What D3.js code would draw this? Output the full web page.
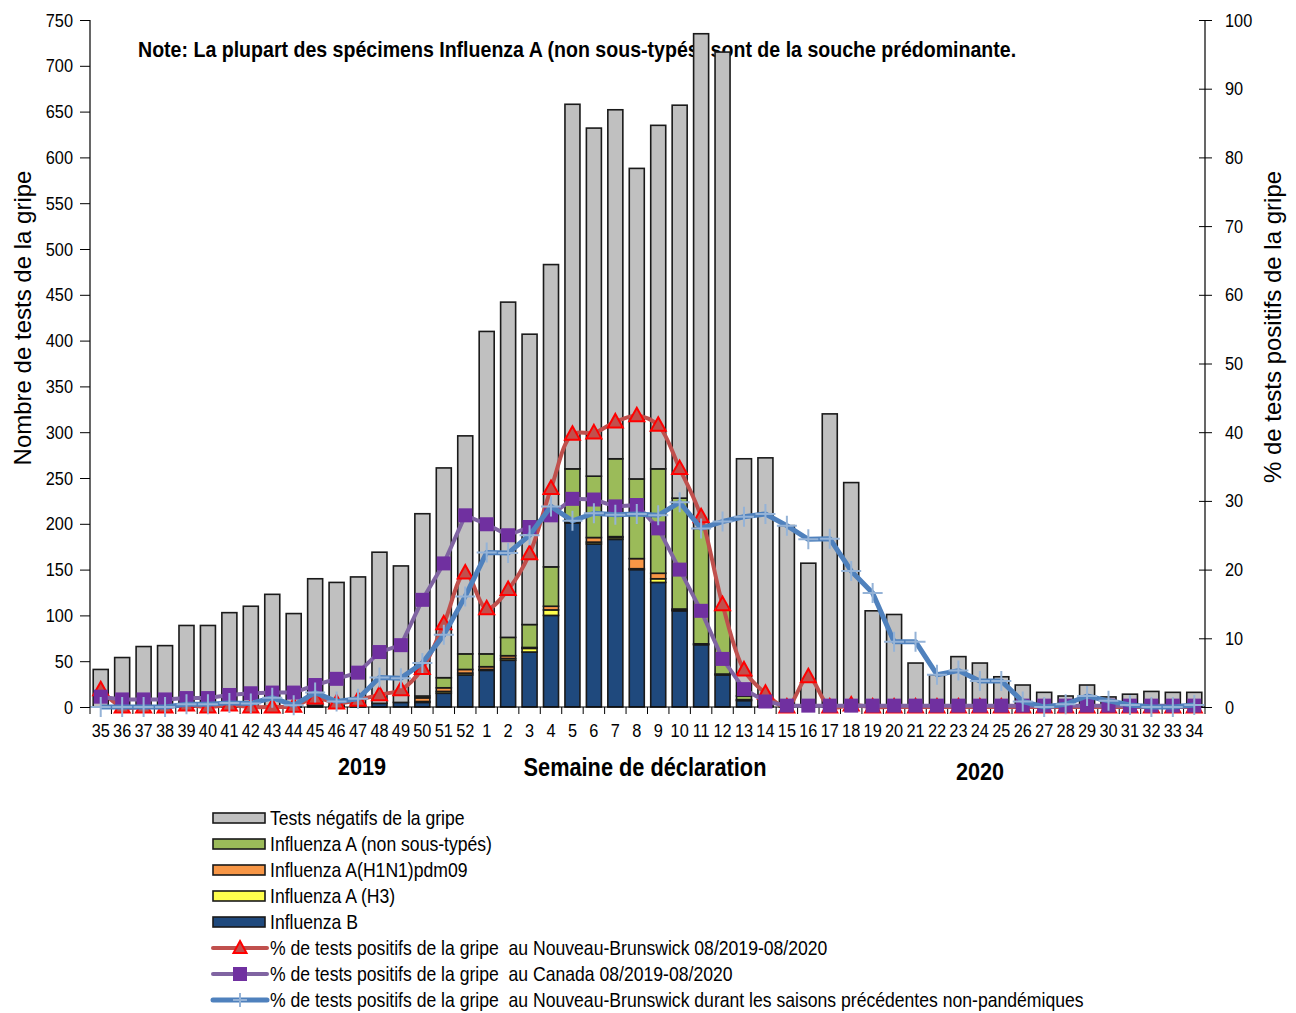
<!DOCTYPE html>
<html>
<head>
<meta charset="utf-8">
<script src="https://cdnjs.cloudflare.com/ajax/libs/d3/7.8.5/d3.min.js"></script>
<style>
  body { margin: 0; background: #fff; }
  text { font-family: "Liberation Sans", Arial, sans-serif; fill: #000; white-space: pre; }
</style>
</head>
<body>
<div id="chart"></div>
<script>
const weeks = ["35","36","37","38","39","40","41","42","43","44","45","46","47","48","49","50","51","52",
  "1","2","3","4","5","6","7","8","9","10","11","12","13","14","15","16","17","18","19","20",
  "21","22","23","24","25","26","27","28","29","30","31","32","33","34"]

// bar stacks (number of tests)
const fluB = [0,0,0,0,0,0,0,0,0,0,2,1,2,4,5,5,15,35,
  40,51,60,100,201,178,183,150,136,105,68,35,7,1,0,0,0,0,0,0,
  0,0,0,0,0,0,0,0,0,0,0,0,0,0]
const fluH3 = [0,0,0,0,0,0,0,0,0,0,0,0,0,0,0,1,2,2,
  1,2,4,6,0,2,2,1,4,1,0,0,0,0,0,0,0,0,0,0,
  0,0,0,0,0,0,0,0,0,0,0,0,0,0]
const fluH1N1 = [0,0,0,0,0,0,0,0,0,0,0,0,0,0,0,4,4,4,
  3,3,1,4,1,5,1,11,6,1,1,1,1,0,0,0,0,0,0,0,
  0,0,0,0,0,0,0,0,0,0,0,0,0,0]
const fluAns = [0,0,0,0,0,0,0,0,0,0,0,0,0,0,0,2,11,17,
  14,20,25,43,58,67,85,87,114,121,126,70,4,0,0,0,0,0,0,0,
  0,0,0,0,0,0,0,0,0,0,0,0,0,0]
const negatives = [41,54,66,67,89,89,103,110,123,102,138,135,140,165,149,199,229,238,
  352,366,317,330,398,380,381,339,375,429,540,609,259,271,198,157,320,245,105,101,
  48,35,55,48,33,24,16,12,24,11,14,17,16,16]

// % positive lines
const pctNB = [2.5,0,0,0,0.3,0,0.3,0,0,0.1,1.3,0.6,1.0,1.8,2.5,5.6,12.1,19.5,
  14.3,17.1,22.3,31.8,39.7,39.9,41.5,42.4,41.0,34.7,27.7,14.9,5.4,2.0,0,4.4,0,0.3,0,0,
  0,0,0,0,0,0,0,0,0,0,0,0,0,0]
const pctCanada = [1.5,1.1,1.1,1.1,1.3,1.3,1.75,2.0,2.1,2.1,3.2,4.1,5.0,8.0,9.0,15.6,20.9,27.9,
  26.6,25.0,26.2,27.9,30.3,30.2,29.2,29.4,26.0,20.0,14.0,7.0,2.6,0.8,0.2,0.2,0.2,0.2,0.2,0.2,
  0.2,0.2,0.2,0.2,0.2,0.2,0.2,0.2,0.2,0.2,0.2,0.2,0.2,0.2]
const pctPrev = [0,0,0,0,0.4,0.4,0.6,0.5,1.35,0.25,2.1,0.8,1.2,4.3,4.2,6.4,10.5,16.1,
  22.5,22.4,25.0,29.2,27.1,28.2,28.0,28.1,27.9,29.8,26.0,27.0,27.7,28.1,26.4,24.4,24.5,19.8,16.6,9.5,
  9.5,4.7,5.3,3.8,3.8,0.8,0,0.4,1.6,0.9,0.3,0,0,0.3]

const leftTicks = [0,50,100,150,200,250,300,350,400,450,500,550,600,650,700,750]
const rightTicks = [0,10,20,30,40,50,60,70,80,90,100]

const W = 1296, H = 1013
const m = {left: 90, right: 1205, top: 20, bottom: 707}

const svg = d3.select("#chart").append("svg")
  .attr("width", W).attr("height", H)

// squeeze text horizontally to look like a narrow font
function narrow(sel, s) {
  sel.each(function () {
    const t = d3.select(this)
    const tx = +t.attr("x") || 0, ty = +t.attr("y") || 0
    const prev = t.attr("transform") || ""
    t.attr("x", 0).attr("y", 0)
      .attr("transform", `${prev} translate(${tx},${ty}) scale(${s},1)`)
  })
}

const x = d3.scaleBand().domain(weeks).range([m.left, m.right]).paddingInner(0.3).paddingOuter(0.15)
const yL = d3.scaleLinear().domain([0, 750]).range([m.bottom, m.top])
const yR = d3.scaleLinear().domain([0, 100]).range([m.bottom, m.top])

// note (bars are drawn over it)
svg.append("text")
  .attr("x", 138).attr("y", 57)
  .attr("font-size", "22px").attr("font-weight", "bold")
  .text("Note: La plupart des spécimens Influenza A (non sous-typés) sont de la souche prédominante.")
  .call(narrow, 0.89)

// stacked bars
const keys = ["B", "H3", "H1N1", "Ans", "neg"]
const colors = {B: "#1f497d", H3: "#ffff4d", H1N1: "#f79646", Ans: "#9bbb59", neg: "#c0c0c0"}
const rows = weeks.map((w, i) => ({week: w, B: fluB[i], H3: fluH3[i], H1N1: fluH1N1[i], Ans: fluAns[i], neg: negatives[i]}))
const stack = d3.stack().keys(keys)(rows)

svg.append("g").selectAll("g")
  .data(stack)
  .enter().append("g")
  .attr("fill", d => colors[d.key])
  .selectAll("rect")
  .data(d => d.filter(s => s[1] - s[0] > 0))
  .enter().append("rect")
  .attr("x", d => x(d.data.week))
  .attr("width", x.bandwidth())
  .attr("y", d => yL(d[1]))
  .attr("height", d => yL(d[0]) - yL(d[1]))
  .attr("stroke", "#1a1a1a")
  .attr("stroke-width", 1.6)

// axes
const axL = svg.append("g").attr("transform", `translate(${m.left},0)`)
  .call(d3.axisLeft(yL).tickValues(leftTicks).tickSize(10).tickPadding(7))
const axR = svg.append("g").attr("transform", `translate(${m.right},0)`)
  .call(d3.axisRight(yR).tickValues(rightTicks).tickSize(7).tickPadding(13))
axR.selectAll(".tick line").attr("x1", -6)
const axB = svg.append("g").attr("transform", `translate(0,${m.bottom})`)
  .call(d3.axisBottom(x).tickSize(0).tickPadding(16))

// week boundary ticks
svg.append("g").selectAll("line")
  .data(d3.range(weeks.length + 1))
  .enter().append("line")
  .attr("x1", i => m.left + i * (m.right - m.left) / weeks.length)
  .attr("x2", i => m.left + i * (m.right - m.left) / weeks.length)
  .attr("y1", m.bottom).attr("y2", m.bottom + 7)
  .attr("stroke", "#000")

;[axL, axR, axB].forEach(a => {
  a.select(".domain").attr("stroke", "#000").attr("stroke-width", 1.2)
  a.selectAll(".tick line").attr("stroke", "#000")
  a.selectAll("text").attr("font-size", "19px").attr("font-family", null).call(narrow, 0.86)
})
axB.select(".domain").attr("d", `M${m.left},0H${m.right}`)
axL.select(".domain").attr("d", `M0,${m.bottom}V${m.top}`)
axR.select(".domain").attr("d", `M0,${m.bottom}V${m.top}`)

// lines
const xc = w => x(w) + x.bandwidth() / 2
function drawLine(vals, color, width, curve) {
  const line = d3.line().x((d, i) => xc(weeks[i])).y(d => yR(d)).curve(curve)
  svg.append("path").datum(vals)
    .attr("d", line)
    .attr("fill", "none")
    .attr("stroke", color)
    .attr("stroke-width", width)
    .attr("stroke-linejoin", "round")
}

drawLine(pctNB, "#c0504d", 4, d3.curveCatmullRom)
svg.append("g").selectAll("path")
  .data(pctNB)
  .enter().append("path")
  .attr("transform", (d, i) => `translate(${xc(weeks[i])},${yR(d)})`)
  .attr("d", "M0,-8L7.5,5.5L-7.5,5.5Z")
  .attr("fill", "#c0504d")
  .attr("stroke", "#ff0000")
  .attr("stroke-width", 2)

drawLine(pctCanada, "#8064a2", 4, d3.curveLinear)
svg.append("g").selectAll("rect")
  .data(pctCanada)
  .enter().append("rect")
  .attr("x", (d, i) => xc(weeks[i]) - 7)
  .attr("y", d => yR(d) - 7)
  .attr("width", 14).attr("height", 14)
  .attr("fill", "#7030a0")

drawLine(pctPrev, "#4f81bd", 5, d3.curveLinear)
svg.append("g").selectAll("path")
  .data(pctPrev)
  .enter().append("path")
  .attr("transform", (d, i) => `translate(${xc(weeks[i])},${yR(d)})`)
  .attr("d", "M-10,0H10M0,-10V10")
  .attr("stroke", "#95b3d7")
  .attr("stroke-width", 2)

// axis titles
svg.append("text")
  .attr("transform", "translate(31,318) rotate(-90)")
  .attr("text-anchor", "middle")
  .attr("font-size", "24px")
  .text("Nombre de tests de la gripe")
  .call(narrow, 1.0)
svg.append("text")
  .attr("transform", "translate(1281,327) rotate(-90)")
  .attr("text-anchor", "middle")
  .attr("font-size", "24px")
  .text("% de tests positifs de la gripe")
  .call(narrow, 1.0)

svg.append("text").attr("x", 362).attr("y", 775).attr("text-anchor", "middle")
  .attr("font-size", "23px").attr("font-weight", "bold").text("2019").call(narrow, 0.94)
svg.append("text").attr("x", 645).attr("y", 776).attr("text-anchor", "middle")
  .attr("font-size", "25px").attr("font-weight", "bold").text("Semaine de déclaration").call(narrow, 0.87)
svg.append("text").attr("x", 980).attr("y", 780).attr("text-anchor", "middle")
  .attr("font-size", "23px").attr("font-weight", "bold").text("2020").call(narrow, 0.94)

// legend
const legendItems = [
  {label: "Tests négatifs de la gripe", type: "bar", color: colors.neg},
  {label: "Influenza A (non sous-typés)", type: "bar", color: colors.Ans},
  {label: "Influenza A(H1N1)pdm09", type: "bar", color: colors.H1N1},
  {label: "Influenza A (H3)", type: "bar", color: colors.H3},
  {label: "Influenza B", type: "bar", color: colors.B},
  {label: "% de tests positifs de la gripe  au Nouveau-Brunswick 08/2019-08/2020", type: "tri"},
  {label: "% de tests positifs de la gripe  au Canada 08/2019-08/2020", type: "sq"},
  {label: "% de tests positifs de la gripe  au Nouveau-Brunswick durant les saisons précédentes non-pandémiques", type: "plus"}
]
const lg = svg.append("g").selectAll("g")
  .data(legendItems)
  .enter().append("g")
  .attr("transform", (d, i) => `translate(213,${818 + i * 26})`)

lg.filter(d => d.type === "bar").append("rect")
  .attr("x", 0).attr("y", -5).attr("width", 52).attr("height", 10)
  .attr("fill", d => d.color).attr("stroke", "#1a1a1a").attr("stroke-width", 1.6)

const lineColor = {tri: "#c0504d", sq: "#8064a2", plus: "#4f81bd"}
lg.filter(d => d.type !== "bar").append("line")
  .attr("x1", 0).attr("x2", 54).attr("y1", 0).attr("y2", 0)
  .attr("stroke", d => lineColor[d.type]).attr("stroke-width", d => d.type === "plus" ? 5 : 4)
  .attr("stroke-linecap", "round")
lg.filter(d => d.type === "tri").append("path")
  .attr("d", "M27,-7L33.5,5L20.5,5Z").attr("fill", "#c0504d").attr("stroke", "#ff0000").attr("stroke-width", 2)
lg.filter(d => d.type === "sq").append("rect")
  .attr("x", 20).attr("y", -7).attr("width", 14).attr("height", 14).attr("fill", "#7030a0")
lg.filter(d => d.type === "plus").append("path")
  .attr("d", "M20,0H34M27,-7V7").attr("stroke", "#95b3d7").attr("stroke-width", 2)

lg.append("text")
  .attr("x", 57).attr("y", 0).attr("dy", "0.35em")
  .attr("font-size", "20px")
  .text(d => d.label)
  .call(narrow, 0.88)
</script>
</body>
</html>
